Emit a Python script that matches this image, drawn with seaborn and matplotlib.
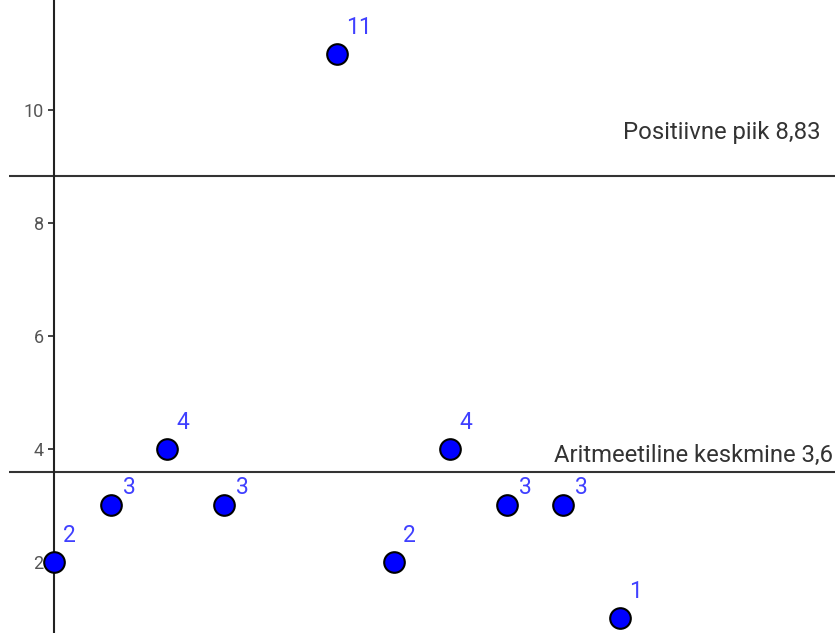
import matplotlib
matplotlib.use("Agg")
import matplotlib.pyplot as plt
import seaborn as sns
import pandas as pd

# andmed
x = [0, 1, 2, 3, 5, 6, 7, 8, 9, 10]
y = [2, 3, 4, 3, 11, 2, 4, 3, 3, 1]
keskmine = 3.6
piik = 8.83
y_ticks = [2, 4, 6, 8, 10]

df = pd.DataFrame({"x": x, "y": y})

sns.set_style("white")
plt.rcParams['font.family'] = ['Roboto', 'DejaVu Sans']

fig = plt.figure(figsize=(8.35, 6.33), dpi=100, facecolor='white')
ax = fig.add_axes([0, 0, 1, 1])

# horisontaalsed jooned
ax.hlines([piik, keskmine], -0.8, 14, color='#333333', linewidth=1.5, zorder=1)

sns.scatterplot(data=df, x="x", y="y", ax=ax, s=220, color='#0000FF',
                edgecolor='black', linewidth=1.5, zorder=3, legend=False)

# punktide sildid; keskmise joone all olevad sildid on madalamal
for xi, yi in zip(x, y):
    if 0 < keskmine - yi < 0.8:
        off = (12, 11)
    else:
        off = (9, 20)
    ax.annotate(str(yi), (xi, yi), xytext=off, textcoords='offset pixels',
                ha='left', va='baseline', fontsize=16.5, color='#4040FF')

ax.text(13.55, piik + 0.65, f"Positiivne piik {str(piik).replace('.', ',')}",
        ha='right', va='baseline', fontsize=17.2, color='#333333')
ax.text(13.76, keskmine + 0.16, f"Aritmeetiline keskmine {str(keskmine).replace('.', ',')}",
        ha='right', va='baseline', fontsize=17.2, color='#333333')

ax.set_xlim(-0.955, 13.8)
ax.set_ylim(0.74, 11.95)

for s in ['top', 'right', 'bottom']:
    ax.spines[s].set_visible(False)
ax.spines['left'].set_position(('data', 0))
ax.spines['left'].set_color('#222222')
ax.spines['left'].set_linewidth(1.5)
ax.spines['left'].set_zorder(2)
ax.set_xticks([])
ax.set_yticks(y_ticks)
ax.set_yticklabels([str(t) for t in y_ticks])
ax.tick_params(axis='y', direction='out', length=4.5, width=1.2, color='#222222',
               labelsize=13, labelcolor='#555555', pad=3, left=True)
ax.set_xlabel("")
ax.set_ylabel("")

fig.savefig("out.png", dpi=100, facecolor='white')
